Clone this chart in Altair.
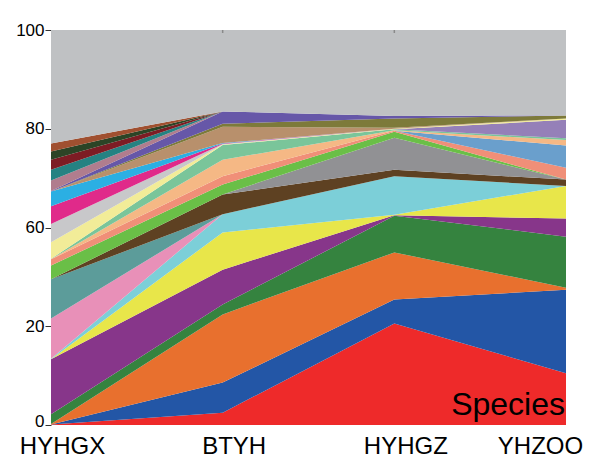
import altair as alt
import pandas as pd

sites = ["HYHGX", "BTYH", "HYHGZ", "YHZOO"]

species = [f"Species {i + 1:02d}" for i in range(30)]

colors = [
    "#ee2a2a", "#2356a6", "#e8702e", "#35833f", "#87368a", "#e8e64a",
    "#7ccfd8", "#e890b8", "#5c9c9a", "#5e4122", "#919194", "#6abf47",
    "#f08f78", "#6a9fcc", "#f5b885", "#7ac59a", "#9580b8", "#f2ec98",
    "#c8c8ca", "#e02a8a", "#2bafe3", "#b8906c", "#7d7a3a", "#6657a8",
    "#b07d8e", "#258282", "#7d1c24", "#2c4426", "#a05030", "#bfc1c3",
]

# relative abundance of each species at the four sites (bottom of stack first)
values = [
    [0.1, 2.5, 21.1, 10.5],
    [0.0, 6.1, 9.7, 24.3],
    [0.1, 16.2, 19.1, 0.8],
    [2.0, 4.0, 12.5, 20.7],
    [11.1, 14.1, 0.1, 5.5],
    [0.0, 15.1, 0.1, 6.6],
    [0.1, 4.7, 7.8, 0.0],
    [9.7, 0.0, 0.0, 0.0],
    [15.9, 0.0, 0.0, 0.0],
    [0.0, 4.0, 1.3, 1.3],
    [0.0, 0.0, 6.5, 0.0],
    [5.6, 2.0, 1.2, 0.0],
    [2.5, 1.7, 0.2, 2.4],
    [0.0, 0.0, 0.0, 4.5],
    [0.1, 3.3, 0.1, 1.1],
    [0.1, 3.0, 0.2, 0.4],
    [0.0, 0.0, 0.0, 3.7],
    [6.7, 0.1, 0.1, 0.3],
    [6.7, 0.1, 0.0, 0.0],
    [3.6, 0.1, 0.0, 0.0],
    [3.0, 0.1, 0.0, 0.0],
    [0.0, 3.3, 0.2, 0.0],
    [0.0, 0.6, 1.9, 0.6],
    [0.1, 2.5, 0.5, 0.0],
    [2.1, 0.0, 0.0, 0.0],
    [2.2, 0.0, 0.0, 0.0],
    [2.0, 0.0, 0.0, 0.0],
    [1.7, 0.0, 0.0, 0.0],
    [1.6, 0.0, 0.0, 0.0],
    [23.0, 16.5, 17.4, 17.3],
]

y_ticks = [0, 20, 60, 80, 100]

rows = []
for i, (sp, vals) in enumerate(zip(species, values)):
    for s, v in zip(sites, vals):
        rows.append({"site": s, "species": sp, "rank": i, "value": v})
df = pd.DataFrame(rows)

W, H = 515, 395
FONT = "Liberation Sans"

xscale = alt.Scale(type="point", domain=sites, padding=0)
yscale = alt.Scale(domain=y_ticks, range=[H, H * 0.75, H * 0.5, H * 0.25, 0], nice=False)

areas = alt.Chart(df).mark_area(interpolate="linear").encode(
    x=alt.X(
        "site:N",
        sort=sites,
        scale=xscale,
        axis=alt.Axis(
            title=None, domain=False, ticks=False, labelAngle=0,
            labelFontSize=24, labelFont=FONT, labelColor="black",
            labelPadding=9,
            labelOffset={"condition": {"test": "datum.value === 'YHZOO'", "value": -26}, "value": 11},
        ),
    ),
    y=alt.Y(
        "value:Q",
        stack="zero",
        scale=yscale,
        axis=alt.Axis(
            title=None, values=y_ticks, domain=False, grid=False,
            tickSize=6, tickColor="#333333", labelFontSize=17, labelFont=FONT,
            labelColor="black", labelPadding=1,
            labelOffset={"condition": {"test": "datum.value === 0", "value": -4}, "value": 0},
        ),
    ),
    color=alt.Color("species:N", scale=alt.Scale(domain=species, range=colors), legend=None),
    order=alt.Order("rank:Q", sort="ascending"),
)

top_ticks = alt.Chart(pd.DataFrame({"site": sites[1:3]})).mark_rule(
    color="#8a8a8a", strokeWidth=1.5
).encode(
    x=alt.X("site:N", sort=sites, scale=xscale),
    y=alt.value(0),
    y2=alt.value(3),
)

label = alt.Chart(pd.DataFrame({"t": ["Species"]})).mark_text(
    align="right", baseline="alphabetic", fontSize=32, font=FONT, color="black"
).encode(
    text="t:N",
    x=alt.value(W - 1),
    y=alt.value(H - 10),
)

chart = alt.layer(areas, top_ticks, label).properties(
    width=W,
    height=H,
    autosize=alt.AutoSizeParams(type="none"),
    padding={"left": 43, "top": 22, "right": 17, "bottom": 32},
    background="white",
).configure_view(stroke=None)

chart.save("out.html", embed_options={"renderer": "svg", "actions": False})
